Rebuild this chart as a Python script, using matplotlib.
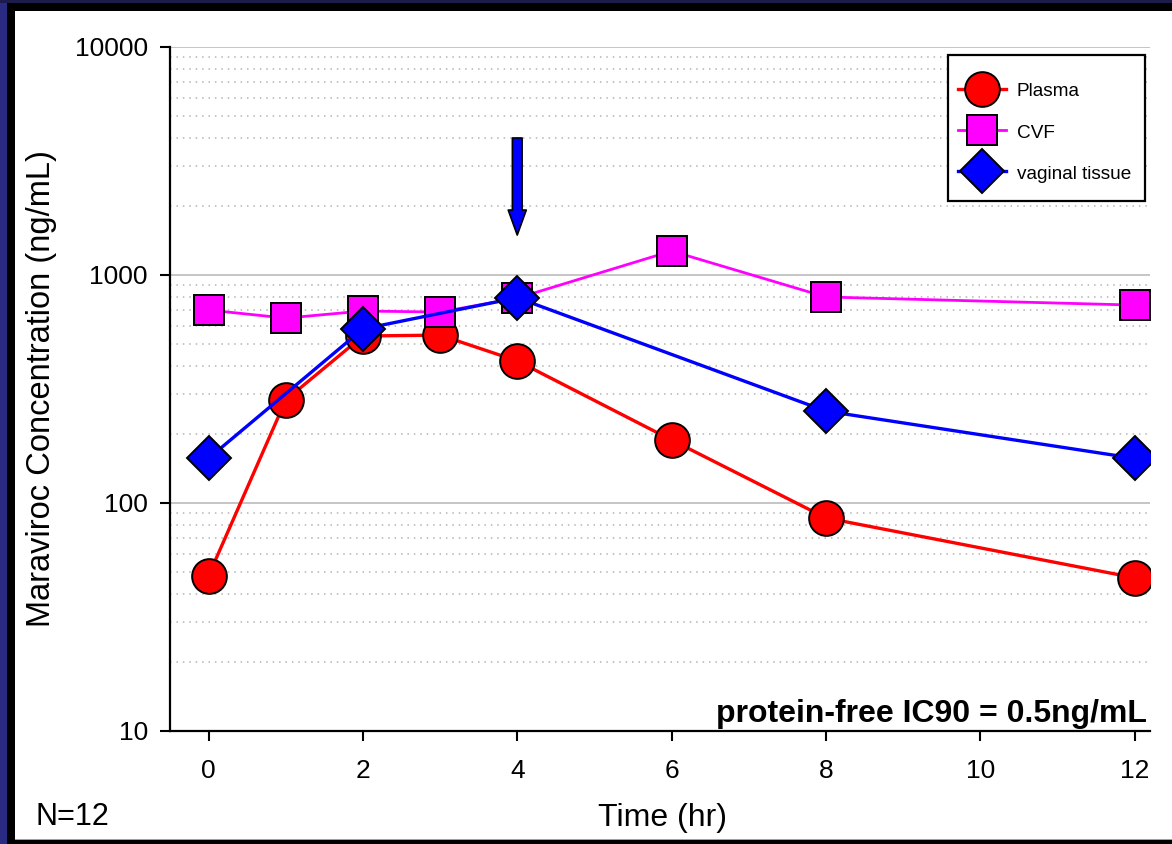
import matplotlib
matplotlib.use("Agg")
import matplotlib.pyplot as plt
from matplotlib.patches import Rectangle
from matplotlib.ticker import FixedLocator, FixedFormatter, NullFormatter

plt.rcParams['font.family'] = ['Liberation Sans', 'DejaVu Sans']

# ---- data ----
plasma_t = [0, 1, 2, 3, 4, 6, 8, 12]
plasma_c = [48, 283, 540, 545, 420, 189, 86, 47]

cvf_t = [0, 1, 2, 3, 4, 6, 8, 12]
cvf_c = [702, 647, 695, 688, 792, 1274, 801, 738]

vag_t = [0, 2, 4, 8, 12]
vag_c = [157, 580, 795, 253, 157]

series_labels = ['Plasma', 'CVF', 'vaginal tissue']
x_ticks = [0, 2, 4, 6, 8, 10, 12]
y_ticks = [10, 100, 1000, 10000]
y_tick_labels = ['10', '100', '1000', '10000']

arrow_x = 4
arrow_top = 3990
arrow_tip = 1497

W, H = 1172, 844
fig = plt.figure(figsize=(W / 100, H / 100), dpi=100)
fig.patch.set_facecolor('#1c1c4c')

# borders
fig.add_artist(Rectangle((0, 0), 7 / W, 1 - 3 / H, transform=fig.transFigure,
                         facecolor='#2a2a82', edgecolor='none', zorder=-3))
fig.add_artist(Rectangle((7 / W, 0), 1, 1 - 3 / H, transform=fig.transFigure,
                         facecolor='black', edgecolor='none', zorder=-2))
fig.add_artist(Rectangle((15 / W, 4 / H), 1, (840 - 11) / H, transform=fig.transFigure,
                         facecolor='#a0a0a0', edgecolor='none', zorder=-1.5))
fig.add_artist(Rectangle((15 / W, 5 / H), 1, (839 - 11) / H, transform=fig.transFigure,
                         facecolor='white', edgecolor='none', zorder=-1))

ax = fig.add_axes([170 / W, (H - 731) / H, (1150 - 170) / W, (731 - 47) / H])
ax.set_facecolor('none')

ax.set_yscale('log')
ax.set_ylim(10, 10000)
ax.set_xlim(-0.5, 12.2)

# grid
for v in [100, 1000, 10000]:
    ax.axhline(v, color='#c0c0c0', lw=1.3, zorder=0.5)
for dec in [10, 100, 1000]:
    for m in range(2, 10):
        ax.axhline(dec * m, color='#b4b4b4', lw=1.1, linestyle=(0, (1, 3.2)), zorder=0.5)

ax.plot(plasma_t, plasma_c, color='#ff0000', lw=2.4, marker='o', ms=25,
        mfc='#ff0000', mec='black', mew=1.4, label=series_labels[0], zorder=3)
ax.plot(cvf_t, cvf_c, color='#ff00ff', lw=2.0, marker='s', ms=21.5,
        mfc='#ff00ff', mec='black', mew=1.4, label=series_labels[1], zorder=4)
ax.plot(vag_t, vag_c, color='#0000ff', lw=2.4, marker='D', ms=22,
        mfc='#0000ff', mec='black', mew=1.4, label=series_labels[2], zorder=5)

ax.annotate('', xy=(arrow_x, arrow_tip), xytext=(arrow_x, arrow_top),
            arrowprops=dict(arrowstyle='simple,head_length=18,head_width=13,tail_width=7',
                            mutation_scale=1, fc='#0000ff', ec='black', lw=1.2,
                            shrinkA=0, shrinkB=0), zorder=6)

# axes styling
for s in ['top', 'right']:
    ax.spines[s].set_visible(False)
for s in ['left', 'bottom']:
    ax.spines[s].set_linewidth(1.6)
ax.yaxis.set_major_locator(FixedLocator(y_ticks))
ax.yaxis.set_major_formatter(FixedFormatter(y_tick_labels))
ax.yaxis.set_minor_locator(FixedLocator([]))
ax.yaxis.set_minor_formatter(NullFormatter())
ax.set_xticks(x_ticks)
ax.set_xticklabels([str(t) for t in x_ticks])
ax.tick_params(axis='both', which='major', direction='out', length=7, width=1.5,
               labelsize=19, color='black')
ax.tick_params(axis='x', pad=13)
ax.tick_params(axis='y', pad=9)

ax.text(0.997, 0.013, 'protein-free IC90 = 0.5ng/mL', transform=ax.transAxes,
        ha='right', va='baseline', fontsize=23, fontweight='bold')

# legend frame drawn separately for exact padding
frame = Rectangle((948 / W, 1 - 201 / H), (1145 - 948) / W, (201 - 55) / H,
                  transform=fig.transFigure, facecolor='white', edgecolor='black',
                  lw=1.6, zorder=7, clip_on=False)
ax.add_patch(frame)
leg = ax.legend(loc='upper left', bbox_to_anchor=(958 / W, 1 - 81 / H),
                bbox_transform=fig.transFigure, borderaxespad=0, borderpad=0,
                fontsize=13.7, frameon=False, handleheight=1.0, labelspacing=1.18,
                handlelength=2.5, handletextpad=0.59)
leg.set_zorder(8)

fig.text(42 / W, (H - 389) / H, 'Maraviroc Concentration (ng/mL)', rotation=90,
         ha='center', va='center', fontsize=23.5)
fig.text(662 / W, (H - 818) / H, 'Time (hr)', ha='center', va='center', fontsize=23)
fig.text(35 / W, (H - 825) / H, 'N=12', ha='left', va='baseline', fontsize=22)

fig.savefig('out.png', dpi=100, facecolor=fig.get_facecolor())
